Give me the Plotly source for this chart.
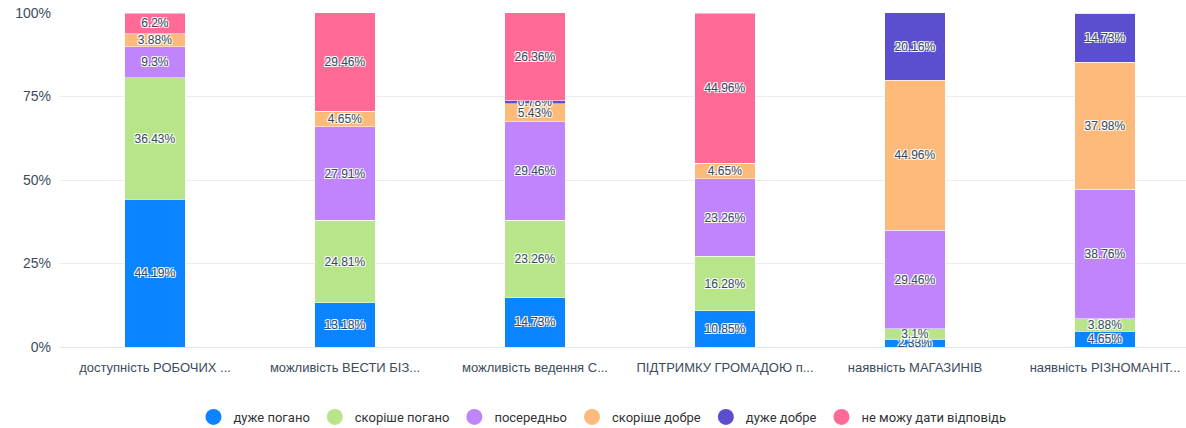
import plotly.graph_objects as go

categories = ["доступність РОБОЧИХ ...", "можливість ВЕСТИ БІЗ...", "можливість ведення С...",
              "ПІДТРИМКУ ГРОМАДОЮ п...", "наявність МАГАЗИНІВ", "наявність РІЗНОМАНІТ..."]
series_names = ["дуже погано", "скоріше погано", "посередньо", "скоріше добре", "дуже добре", "не можу дати відповідь"]
very_bad = [44.19, 13.18, 14.73, 10.85, 2.33, 4.65]
rather_bad = [36.43, 24.81, 23.26, 16.28, 3.1, 3.88]
average = [9.3, 27.91, 29.46, 23.26, 29.46, 38.76]
rather_good = [3.88, 4.65, 5.43, 4.65, 44.96, 37.98]
very_good = [0, 0, 0.78, 0, 20.16, 14.73]
no_answer = [6.2, 29.46, 26.36, 44.96, 0, 0]
colors = ["#0A84FF", "#B8E48A", "#C084FC", "#FDBA7A", "#5B4FCF", "#FF6B96"]
y_ticks = [0, 25, 50, 75, 100]

series = [very_bad, rather_bad, average, rather_good, very_good, no_answer]

fig = go.Figure()
shadow = "-1px -1px 0 #fff, 1px -1px 0 #fff, -1px 1px 0 #fff, 1px 1px 0 #fff"
for name, vals, col in zip(series_names, series, colors):
    fig.add_trace(go.Bar(
        x=categories, y=vals, name=name, marker=dict(color=col, line=dict(color="white", width=0.5)),
        width=0.316, text=[f"{v:g}%" if v else "" for v in vals],
        textposition="inside", insidetextanchor="middle", textangle=0,
        textfont=dict(color="#34495e", size=12, family="Liberation Sans", shadow=shadow),
        showlegend=False, hoverinfo="skip"))
    fig.add_trace(go.Scatter(
        x=[None], y=[None], mode="markers", name=name,
        marker=dict(symbol="circle", size=16, color=col), showlegend=True))

fig.update_layout(
    barmode="stack", width=1186, height=428,
    margin=dict(l=60, r=0, t=13, b=81, autoexpand=False),
    paper_bgcolor="white", plot_bgcolor="white",
    font=dict(family="Liberation Sans", color="#3d4b5c", size=12),
    uniformtext=dict(minsize=12, mode="show"),
    legend=dict(orientation="h", x=0.508, xanchor="center", xref="container", yanchor="middle",
                yref="container", traceorder="normal",
                font=dict(family="Roboto", size=13, color="#333"), itemsizing="trace", itemwidth=30,
                tracegroupgap=0),
    xaxis=dict(range=[-0.5, 5.4263], showgrid=False, showline=True, linecolor="#e6e6e6",
               tickfont=dict(size=13, color="#3d4b5c"), ticks="", ticklabelstandoff=8),
    yaxis=dict(range=[0, 100], tickmode="array", tickvals=y_ticks, ticktext=[f"{v}%" for v in y_ticks],
               showgrid=True, gridcolor="#ececec",
               zeroline=False, tickfont=dict(size=14, color="#3d4b5c"), ticklabelstandoff=8),
)
fig.layout.legend.y = 1 - 417 / 428
fig.write_html("out.html", config={"displayModeBar": False},
               post_script="document.body.style.margin='0';document.body.style.overflow='hidden';")
